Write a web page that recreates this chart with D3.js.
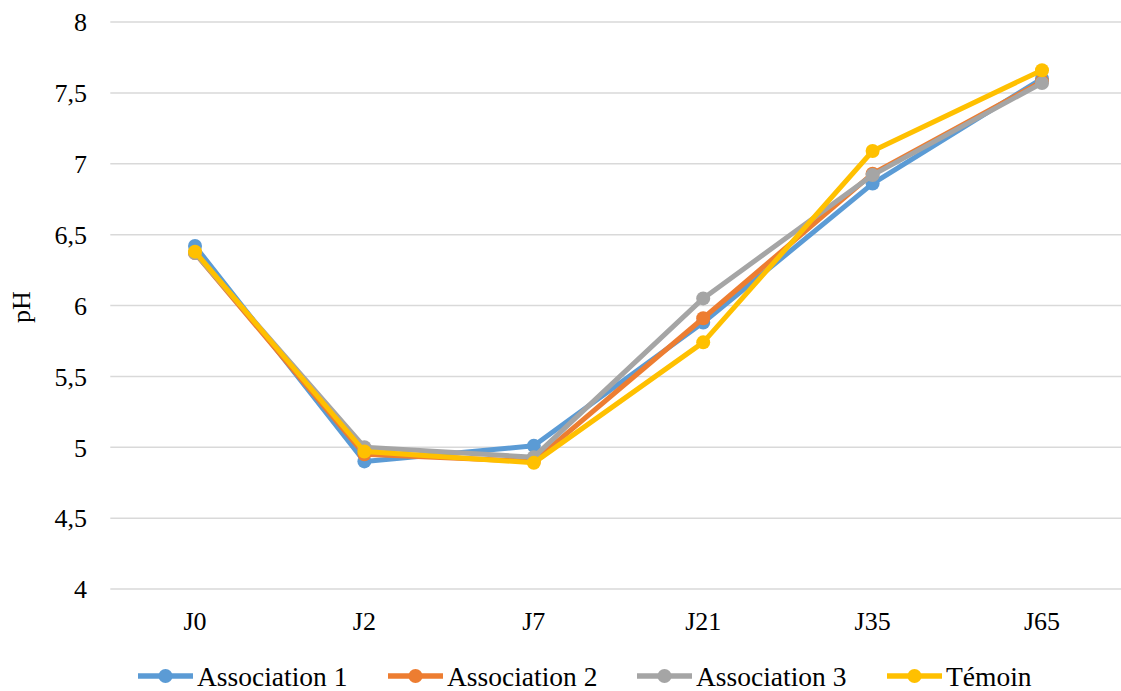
<!DOCTYPE html>
<html><head><meta charset="utf-8">
<script src="https://cdn.jsdelivr.net/npm/d3@7"></script>
<style>body{margin:0;background:#fff}svg{display:block}</style>
</head><body>
<svg id="c" width="1121" height="691"></svg>
<script>
const categories = ["J0","J2","J7","J21","J35","J65"];
const seriesNames = ["Association 1","Association 2","Association 3","Témoin"];
const assoc1 = [6.42, 4.90, 5.01, 5.88, 6.86, 7.60];
const assoc2 = [6.37, 4.95, 4.90, 5.91, 6.93, 7.58];
const assoc3 = [6.37, 5.00, 4.93, 6.05, 6.92, 7.57];
const temoin = [6.38, 4.97, 4.89, 5.74, 7.09, 7.66];
const yTicks = [4, 4.5, 5, 5.5, 6, 6.5, 7, 7.5, 8];
const colors = ["#5B9BD5","#ED7D31","#A5A5A5","#FFC000"];
const allSeries = [assoc1, assoc2, assoc3, temoin];

const svg = d3.select("#c");
const pLeft = 110.3, pRight = 1126.7, pTop = 22, pBottom = 589;
const x = d3.scaleBand().domain(categories).range([pLeft, pRight]);
const y = d3.scaleLinear().domain([4, 8]).range([pBottom, pTop]);
const font = "'Liberation Serif','Times New Roman',serif";

// gridlines
svg.append("g").selectAll("line").data(yTicks).join("line")
  .attr("x1", pLeft).attr("x2", pRight)
  .attr("y1", d => y(d)).attr("y2", d => y(d))
  .attr("stroke", "#d9d9d9").attr("stroke-width", 1.5);

// y axis labels
const yAxis = d3.axisLeft(y).tickValues(yTicks).tickSize(0).tickPadding(0)
  .tickFormat(d => String(d).replace(".", ","));
const yg = svg.append("g").attr("transform", `translate(87,0)`).call(yAxis);
yg.select(".domain").remove();
yg.selectAll("text").attr("font-family", font).attr("font-size", 26).attr("fill", "#000")
  .attr("dy", "0.34em");

// x axis labels
const xAxis = d3.axisBottom(x).tickSize(0).tickPadding(0);
const xg = svg.append("g").attr("transform", `translate(0,630)`).call(xAxis);
xg.select(".domain").remove();
xg.selectAll("text").attr("font-family", font).attr("font-size", 26).attr("fill", "#000")
  .attr("dy", 0).attr("y", 0);

// y title
svg.append("text").attr("transform", `translate(30,307) rotate(-90)`)
  .attr("text-anchor", "middle").attr("font-family", font).attr("font-size", 26)
  .text("pH");

// lines
const line = d3.line().x((d, i) => x(categories[i]) + x.bandwidth() / 2).y(d => y(d));
allSeries.forEach((s, k) => {
  const g = svg.append("g");
  g.append("path").datum(s).attr("d", line).attr("fill", "none")
    .attr("stroke", colors[k]).attr("stroke-width", 5).attr("stroke-linejoin", "round");
  g.selectAll("circle").data(s).join("circle")
    .attr("cx", (d, i) => x(categories[i]) + x.bandwidth() / 2).attr("cy", d => y(d))
    .attr("r", 7).attr("fill", colors[k]);
});

// legend
const legendX = [138, 388, 637, 887];
const lg = svg.append("g");
seriesNames.forEach((n, k) => {
  const lx = legendX[k], ly = 676;
  lg.append("line").attr("x1", lx).attr("x2", lx + 55).attr("y1", ly).attr("y2", ly)
    .attr("stroke", colors[k]).attr("stroke-width", 5.5);
  lg.append("circle").attr("cx", lx + 27.5).attr("cy", ly).attr("r", 7).attr("fill", colors[k]);
  lg.append("text").attr("x", lx + 59).attr("y", 686).attr("font-family", font)
    .attr("font-size", 27.5).text(n);
});
</script>
</body></html>
